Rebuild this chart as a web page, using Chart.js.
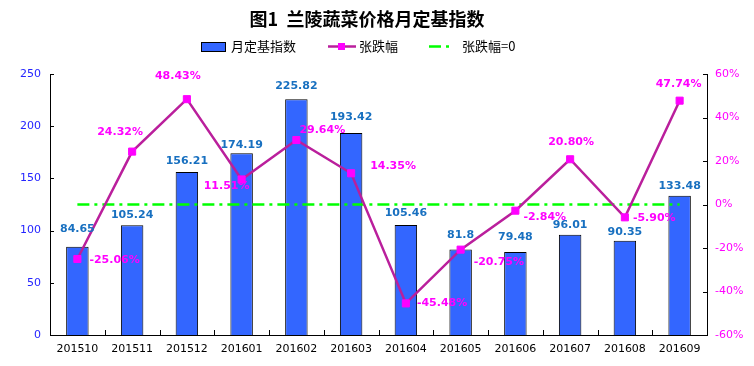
<!DOCTYPE html>
<html>
<head>
<meta charset="utf-8">
<script src="https://cdn.jsdelivr.net/npm/chart.js@4"></script>
<style>
  html, body { margin: 0; padding: 0; background: #fff; }
  #wrap { width: 754px; height: 366px; }
</style>
</head>
<body>
<div id="wrap"><canvas id="chart" width="754" height="366"></canvas></div>
<script>
// data
var months = ['201510','201511','201512','201601','201602','201603','201604','201605','201606','201607','201608','201609'];
var indexValues = [84.65, 105.24, 156.21, 174.19, 225.82, 193.42, 105.46, 81.8, 79.48, 96.01, 90.35, 133.48];
var changeValues = [-25.06, 24.32, 48.43, 11.51, 29.64, 14.35, -45.48, -20.75, -2.84, 20.80, -5.90, 47.74];
var zeroLine = [0, 0, 0, 0, 0, 0, 0, 0, 0, 0, 0, 0];

// label placement (px offsets from the mark)
var barLabelLift = [17, 10, 11, 8, 13, 16, 12, 14, 15, 10, 9, 10];
var pctDx = [12, -12, -9, -15, 3, 19, 11, 13, 8, 1, 8, -1];
var pctDy = [1, -19, -23, 7, -10, -7, 0, 13, 6, -17, 1, -17];
var pctAlign = ['left','center','center','center','left','left','left','left','left','center','left','center'];

var numFont = '"DejaVu Sans", Verdana, sans-serif';
var cjkFont = '"Noto Sans CJK SC", sans-serif';

var extras = {
  id: 'extras',
  afterDatasetsDraw: function(chart) {
    var ctx = chart.ctx;
    var bars = chart.getDatasetMeta(0).data;
    var pts = chart.getDatasetMeta(1).data;
    ctx.save();
    ctx.font = 'bold 11px ' + numFont;
    ctx.textBaseline = 'middle';
    ctx.textAlign = 'center';
    ctx.fillStyle = '#1870C0';
    bars.forEach(function(b, i) {
      ctx.fillText(String(indexValues[i]), b.x, b.y - barLabelLift[i]);
    });
    ctx.fillStyle = '#FF00FF';
    pts.forEach(function(p, i) {
      ctx.textAlign = pctAlign[i];
      ctx.fillText(changeValues[i].toFixed(2) + '%', p.x + pctDx[i], p.y + pctDy[i]);
    });
    ctx.restore();
  },
  afterDraw: function(chart) {
    var ctx = chart.ctx;
    var area = chart.chartArea;
    var sy = chart.scales.y, sy1 = chart.scales.y1;
    ctx.save();
    // inward tick marks
    ctx.strokeStyle = '#000';
    ctx.lineWidth = 1;
    ctx.beginPath();
    var step = (area.right - area.left) / months.length;
    for (var i = 1; i < months.length; i++) {
      var x = Math.round(area.left + step * i) + 0.5;
      ctx.moveTo(x, area.bottom);
      ctx.lineTo(x, area.bottom - 5);
    }
    sy.ticks.forEach(function(t) {
      var y = Math.round(sy.getPixelForValue(t.value)) + 0.5;
      ctx.moveTo(area.left, y);
      ctx.lineTo(area.left + 4, y);
    });
    sy1.ticks.forEach(function(t) {
      var y = Math.round(sy1.getPixelForValue(t.value)) + 0.5;
      ctx.moveTo(area.right, y);
      ctx.lineTo(area.right - 4, y);
    });
    ctx.stroke();

    // title
    ctx.fillStyle = '#000';
    ctx.textBaseline = 'middle';
    ctx.textAlign = 'center';
    ctx.font = 'bold 18px ' + cjkFont;
    ctx.fillText('图1  兰陵蔬菜价格月定基指数', 367, 19);

    // legend
    var ly = 46.5;
    ctx.font = '13px ' + cjkFont;
    ctx.textAlign = 'left';
    ctx.fillStyle = '#3366FF';
    ctx.fillRect(201, 42, 24, 9);
    ctx.strokeStyle = '#000';
    ctx.strokeRect(201.5, 42.5, 24, 9);
    ctx.fillStyle = '#000';
    ctx.fillText('月定基指数', 231, ly);

    ctx.strokeStyle = '#BA1F9C';
    ctx.lineWidth = 2.5;
    ctx.beginPath();
    ctx.moveTo(328, ly);
    ctx.lineTo(356, ly);
    ctx.stroke();
    ctx.fillStyle = '#FF00FF';
    ctx.fillRect(338, ly - 3.5, 7, 7);
    ctx.fillStyle = '#000';
    ctx.fillText('张跌幅', 359, ly);

    ctx.strokeStyle = '#00FF00';
    ctx.lineWidth = 2.5;
    ctx.setLineDash([12, 5, 3, 5]);
    ctx.beginPath();
    ctx.moveTo(429, ly);
    ctx.lineTo(451, ly);
    ctx.stroke();
    ctx.setLineDash([]);
    ctx.fillStyle = '#000';
    ctx.fillText('张跌幅=0', 462, ly);
    ctx.restore();
  }
};

new Chart(document.getElementById('chart'), {
  type: 'bar',
  data: {
    labels: months,
    datasets: [
      {
        label: '月定基指数',
        data: indexValues,
        yAxisID: 'y',
        backgroundColor: '#3366FF',
        borderColor: '#000',
        borderWidth: 1,
        categoryPercentage: 1,
        barPercentage: 0.41,
        order: 3
      },
      {
        label: '张跌幅',
        type: 'line',
        data: changeValues,
        yAxisID: 'y1',
        borderColor: '#BA1F9C',
        borderWidth: 2.5,
        pointStyle: 'rect',
        pointRadius: 5,
        pointBackgroundColor: '#FF00FF',
        pointBorderColor: '#FF00FF',
        pointBorderWidth: 1,
        tension: 0,
        order: 1
      },
      {
        label: '张跌幅=0',
        type: 'line',
        data: zeroLine,
        yAxisID: 'y1',
        borderColor: '#00FF00',
        borderWidth: 2.5,
        borderDash: [12, 5, 3, 5],
        pointRadius: 0,
        order: 2
      }
    ]
  },
  options: {
    responsive: false,
    animation: false,
    devicePixelRatio: 1,
    layout: { padding: { top: 74, left: 0, right: 0, bottom: 0 } },
    plugins: {
      legend: { display: false },
      title: { display: false },
      tooltip: { enabled: false }
    },
    scales: {
      x: {
        grid: { display: false, drawTicks: false },
        border: { display: true, color: '#000', width: 1 },
        ticks: { color: '#000', font: { family: numFont, size: 11 }, padding: 8, maxRotation: 0 },
        afterFit: function(s) { s.height = 31; }
      },
      y: {
        position: 'left',
        min: 0,
        max: 250,
        grid: { display: false, drawTicks: false },
        border: { display: true, color: '#000', width: 1 },
        ticks: { stepSize: 50, color: '#2424FF', font: { family: numFont, size: 11 }, padding: 9 },
        afterFit: function(s) { s.width = 50; }
      },
      y1: {
        position: 'right',
        min: -60,
        max: 60,
        grid: { display: false, drawTicks: false },
        border: { display: true, color: '#000', width: 1 },
        ticks: {
          stepSize: 20,
          color: '#FF00FF',
          font: { family: numFont, size: 11 },
          padding: 8,
          callback: function(v) { return v + '%'; }
        },
        afterFit: function(s) { s.width = 47; }
      }
    }
  },
  plugins: [extras]
});
</script>
</body>
</html>
